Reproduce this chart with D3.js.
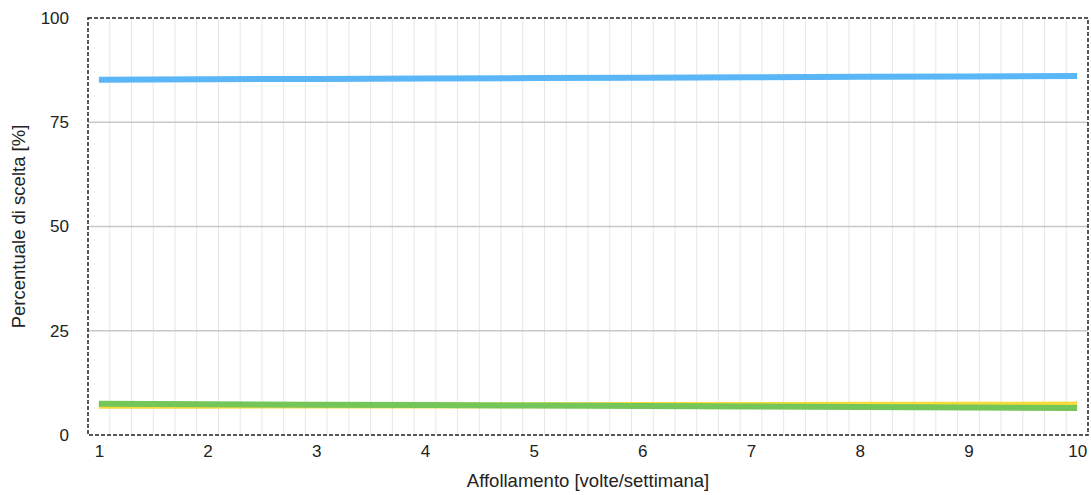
<!DOCTYPE html>
<html><head><meta charset="utf-8">
<script src="https://cdn.jsdelivr.net/npm/d3@7"></script>
<style>body{margin:0;background:#fff}svg{display:block}text{font-family:"Liberation Sans",Arial,sans-serif}</style>
</head><body><svg id="c" width="1091" height="495"></svg>
<script>
const xValues = [1,2,3,4,5,6,7,8,9,10];
const seriesBlue = [85.2,85.3,85.4,85.5,85.6,85.7,85.8,85.9,86.0,86.1];
const seriesYellow = [7.0,7.03,7.07,7.1,7.13,7.17,7.2,7.23,7.27,7.3];
const seriesGreen = [7.5,7.39,7.28,7.17,7.06,6.94,6.83,6.72,6.61,6.5];
const xTicks = [1,2,3,4,5,6,7,8,9,10];
const yTicks = [0,25,50,75,100];
const xTitle = "Affollamento [volte/settimana]";
const yTitle = "Percentuale di scelta [%]";

const svg = d3.select("#c");
const L=88,R=1088,T=18,B=435;
const x = d3.scaleLinear().domain([0.9,10.1]).range([L,R]);
const y = d3.scaleLinear().domain([0,100]).range([B,T]);

// minor vertical gridlines
const minor = d3.range(0,47).map(i=>0.9+i*0.2).filter(v=>v>0.95&&v<10.05);
svg.append("g").selectAll("line").data(minor).join("line")
  .attr("x1",d=>x(d)).attr("x2",d=>x(d)).attr("y1",T).attr("y2",B)
  .attr("stroke","#e6e6e6").attr("stroke-width",1);
// horizontal gridlines
svg.append("g").selectAll("line").data(yTicks.filter(d=>d>0&&d<100)).join("line")
  .attr("x1",L).attr("x2",R).attr("y1",d=>y(d)).attr("y2",d=>y(d))
  .attr("stroke","#c8c8c8").attr("stroke-width",1.5);

// series
const line = d3.line().x((d,i)=>x(xValues[i])).y(d=>y(d));
[[seriesBlue,"#5ab6f7"],[seriesYellow,"#f5dc3c"],[seriesGreen,"#74c659"]].forEach(([s,c])=>{
  svg.append("path").datum(s).attr("d",line).attr("fill","none")
    .attr("stroke",c).attr("stroke-width",6);
});

// frame
svg.append("rect").attr("x",L).attr("y",T).attr("width",R-L).attr("height",B-T)
  .attr("fill","none").attr("stroke","#222").attr("stroke-width",1.5).attr("stroke-dasharray","4,2");

// axes
const xAxis = svg.append("g").attr("transform",`translate(0,${B})`)
  .call(d3.axisBottom(x).tickValues(xTicks).tickSize(0).tickPadding(10));
xAxis.select(".domain").remove();
xAxis.selectAll("text").attr("font-size",17).attr("fill","#222");
const yAxis = svg.append("g").attr("transform",`translate(${L},0)`)
  .call(d3.axisLeft(y).tickValues(yTicks).tickSize(0).tickPadding(19));
yAxis.select(".domain").remove();
yAxis.selectAll("text").attr("font-size",17).attr("fill","#222");

svg.append("text").attr("x",(L+R)/2).attr("y",487).attr("text-anchor","middle")
  .attr("font-size",18.5).attr("fill","#222").text(xTitle);
svg.append("text").attr("transform",`translate(25,${(T+B)/2}) rotate(-90)`).attr("text-anchor","middle")
  .attr("font-size",18.5).attr("fill","#222").text(yTitle);
</script></body></html>
